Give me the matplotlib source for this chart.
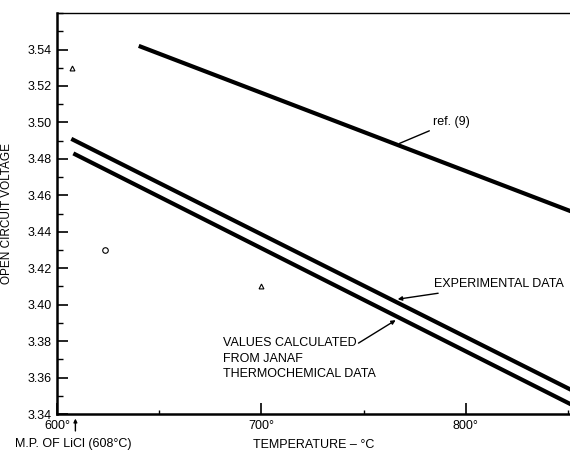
import matplotlib
matplotlib.use("Agg")
import matplotlib.pyplot as plt
from matplotlib.ticker import MultipleLocator

plt.rcParams['font.family'] = ['Liberation Sans', 'DejaVu Sans']

# temperature (deg C) and open circuit voltage (V)
ref_T = [640, 852]
ref_V = [3.542, 3.451]
exp_T = [607, 852]
exp_V = [3.491, 3.353]
calc_T = [608, 852]
calc_V = [3.483, 3.345]

tri_T = [607.5, 700]
tri_V = [3.530, 3.410]
circ_T = [623.5]
circ_V = [3.430]

x_ticks = [600, 700, 800]
x_labels = ["600\u00b0", "700\u00b0", "800\u00b0"]
y_ticks = [3.34, 3.36, 3.38, 3.40, 3.42, 3.44, 3.46, 3.48, 3.50, 3.52, 3.54]
y_labels = ["3.34", "3.36", "3.38", "3.40", "3.42", "3.44", "3.46", "3.48", "3.50", "3.52", "3.54"]

fig = plt.figure(figsize=(5.7, 4.51), dpi=100)
ax = fig.add_axes([0.1, 0.082, 0.9, 0.889])

ax.plot(ref_T, ref_V, color="black", lw=3, solid_capstyle="butt")
ax.plot(exp_T, exp_V, color="black", lw=3, solid_capstyle="butt")
ax.plot(calc_T, calc_V, color="black", lw=3, solid_capstyle="butt")
ax.plot(tri_T, tri_V, "^", mfc="white", mec="black", ms=3.5, mew=0.8)
ax.plot(circ_T, circ_V, "o", mfc="white", mec="black", ms=4, mew=0.8)

ax.set_xlim(600, 851)
ax.set_ylim(3.34, 3.56)

ax.set_xticks(x_ticks)
ax.set_xticklabels(x_labels)
ax.set_yticks(y_ticks)
ax.set_yticklabels(y_labels)
ax.xaxis.set_minor_locator(MultipleLocator(50))
ax.yaxis.set_minor_locator(MultipleLocator(0.01))
ax.tick_params(which="major", direction="in", length=8, width=1.2, labelsize=9, pad=4)
ax.tick_params(which="minor", direction="in", length=4, width=1)
ax.tick_params(axis="x", which="minor", length=3)

ax.spines["right"].set_visible(False)
ax.spines["left"].set_linewidth(1.8)
ax.spines["bottom"].set_linewidth(1.8)
ax.spines["top"].set_linewidth(1)

ax.set_ylabel("OPEN CIRCUIT VOLTAGE", fontsize=8.5)
ax.yaxis.set_label_coords(-0.086, 0.5)
ax.set_xlabel("TEMPERATURE \u2013 \u00b0C", fontsize=9)
ax.xaxis.set_label_coords(0.5, -0.062)

ax.text(-0.082, -0.075, "M.P. OF LiCl (608\u00b0C)", transform=ax.transAxes,
        fontsize=9, ha="left", va="center", clip_on=False)
ax.annotate("", xy=(609, 3.3375), xytext=(609, 3.3307), annotation_clip=False,
            arrowprops=dict(arrowstyle="-|>", lw=1, color="black", mutation_scale=5,
                            shrinkA=0, shrinkB=0))

ax.annotate("ref. (9)", xy=(767.6, 3.4885), xytext=(784, 3.5005),
            fontsize=9, ha="left", va="center",
            arrowprops=dict(arrowstyle="-", lw=1, color="black", shrinkA=1, shrinkB=0))
ax.annotate("EXPERIMENTAL DATA", xy=(766.7, 3.403), xytext=(784.5, 3.4112),
            fontsize=9, ha="left", va="center",
            arrowprops=dict(arrowstyle="-|>", lw=1, color="black", mutation_scale=6,
                            shrinkA=1, shrinkB=0))
ax.annotate("", xy=(765.7, 3.3915), xytext=(747.5, 3.3789),
            arrowprops=dict(arrowstyle="-|>", lw=1, color="black", mutation_scale=6,
                            shrinkA=0, shrinkB=0))
ax.text(681.4, 3.3822, "VALUES CALCULATED\nFROM JANAF\nTHERMOCHEMICAL DATA",
        fontsize=9, ha="left", va="top", linespacing=1.4)

fig.savefig("out.png", dpi=100)
